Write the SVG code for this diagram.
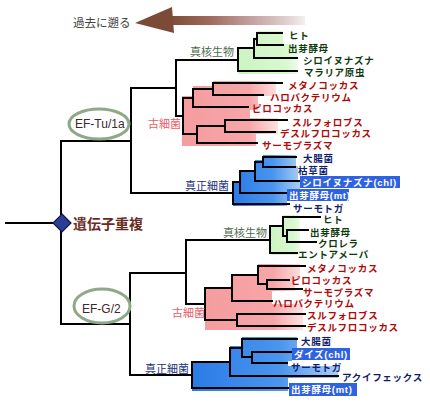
<svg xmlns="http://www.w3.org/2000/svg" width="430" height="404" viewBox="0 0 430 404">
<defs>
<style>
.ln{stroke:#000;stroke-width:2;fill:none;stroke-linecap:square}
.tip{font-family:"Liberation Sans","Noto Sans CJK JP","Noto Sans CJK SC",sans-serif;font-size:9.5px;font-weight:bold;letter-spacing:0.7px}
.euk{fill:#0d3a0d}.arc{fill:#b00808}.bac{fill:#121c6e}.hl{fill:#fff}
.box{fill:#2f62e0}
.grp{font-family:"Liberation Sans","Noto Sans CJK JP","Noto Sans CJK SC",sans-serif;font-size:11px}
.ef{fill:none;stroke:#8fa888;stroke-width:3}
.eft{font-family:"Liberation Sans",Arial,sans-serif;font-size:12px;fill:#3a2a2a}
</style>
<linearGradient id="shaft" x1="0" y1="0" x2="1" y2="0">
<stop offset="0" stop-color="#7b4b38"/><stop offset="0.3" stop-color="#a06b5c"/><stop offset="0.6" stop-color="#c4a0a0"/><stop offset="0.85" stop-color="#e0cccc"/><stop offset="1" stop-color="#f6eeee"/>
</linearGradient>
<linearGradient id="pink" x1="0" y1="0" x2="1" y2="0">
<stop offset="0" stop-color="#f59c9e"/><stop offset="0.7" stop-color="#f7a6a8"/><stop offset="1" stop-color="#fde2e2"/>
</linearGradient>
<linearGradient id="blue" x1="0" y1="0" x2="1" y2="0">
<stop offset="0" stop-color="#2a7be6"/><stop offset="0.6" stop-color="#4a95ee"/><stop offset="1" stop-color="#a9cdf6"/>
</linearGradient>
<linearGradient id="green" x1="0" y1="0" x2="1" y2="0">
<stop offset="0" stop-color="#cdf4c2"/><stop offset="0.8" stop-color="#d8f8d0"/><stop offset="1" stop-color="#ecfce8"/>
</linearGradient>
</defs>
<rect width="430" height="404" fill="#fff"/>

<g id="time-arrow">
<rect x="170" y="16" width="135" height="9" fill="url(#shaft)"/>
<polygon points="135,23 172,7 174,33" fill="#7b4b38"/>
<text x="73" y="27" font-family="Liberation Sans,Noto Sans CJK JP,sans-serif" font-size="11.5" fill="#444">過去に遡る</text>
</g>

<g id="shading">
<polygon points="257,31 283,31 283,44 298,44 298,74 238,74 238,47 254,47 254,37 257,37" fill="url(#green)"/>
<polygon points="213,81 276,81 276,96 258,96 258,110 250,110 250,118 278,118 278,134 256,134 256,146 182,146 182,96 193,96 193,86 213,86" fill="url(#pink)"/>
<polygon points="263,155 296,155 296,166 298,166 298,180 300,180 300,192 287,192 287,206 233,206 233,181 240,181 240,170 255,170 255,160 263,160" fill="url(#blue)"/>
<polygon points="283,215 300,215 300,255 270,255 270,225 283,225" fill="url(#green)"/>
<polygon points="258,264 300,264 300,278 295,278 295,291 272,291 272,304 303,304 303,330 205,330 205,288 232,288 232,274 258,274" fill="url(#pink)"/>
<polygon points="242,337 297,337 297,350 292,350 292,361 288,361 288,366 338,366 338,378 288,378 288,391 192,391 192,362 230,362 230,346 242,346" fill="url(#blue)"/>
</g>

<g id="connectors">
<path class="ln" d="M6 223H61 M61 141V324 M61 141H131 M61 324H130"/>
<path class="ln" d="M131 88V193 M131 88H176 M131 193H233 M176 60V116 M176 60H238 M176 116H183"/>
<path class="ln" d="M238 48V71 M238 48H254 M238 71H297 M254 39V58 M254 39H257 M254 58H297 M257 33V45 M257 33H282 M257 45H283"/>
<path class="ln" d="M183 98V134 M183 98H193 M183 134H197 M193 89V107 M193 89H213 M193 107H248 M213 83V95 M213 83H282 M213 95H263 M197 126V143 M197 126H225 M197 143H257 M225 120V132 M225 120H287 M225 132H275"/>
<path class="ln" d="M233 182V204 M233 182H240 M233 204H289 M240 171V193 M240 171H255 M240 193H286 M255 162V181 M255 162H263 M255 181H299 M263 157V167 M263 157H296 M263 167H295"/>
<path class="ln" d="M130 273V375 M130 273H186 M130 375H192 M186 240V304 M186 240H270 M186 304H205"/>
<path class="ln" d="M270 226V253 M270 226H283 M270 253H297 M283 217V236 M283 217H320 M283 236H287 M287 230V242 M287 230H308 M287 242H316"/>
<path class="ln" d="M205 288V320 M205 288H232 M205 320H237 M232 275V301 M232 275H258 M232 301H272 M258 266V284 M258 266H305 M258 284H267 M267 280V289 M267 280H289 M267 289H302 M237 314V326 M237 314H305 M237 326H305"/>
<path class="ln" d="M192 362V388 M192 362H230 M192 388H288 M230 348V376 M230 348H242 M230 376H338 M242 339V357 M242 339H297 M242 357H252 M252 352V363 M252 352H291 M252 363H287"/>
</g>

<g id="duplication">
<polygon points="62,214 71,223 62,232 53,223" fill="#2c3d95" stroke="#14184a" stroke-width="1.2"/>
<text x="73" y="229" font-family="Liberation Sans,Noto Sans CJK JP,sans-serif" font-size="14" font-weight="bold" fill="#6b2a1f">遺伝子重複</text>
</g>

<g id="ef-tu">
<ellipse class="ef" cx="99" cy="124" rx="30" ry="15"/>
<text class="eft" x="75" y="128">EF-Tu/1a</text>
</g>
<g id="ef-g">
<ellipse class="ef" cx="102" cy="306" rx="28" ry="17"/>
<text class="eft" x="82" y="313">EF-G/2</text>
</g>

<g id="group-labels">
<text class="grp" x="190" y="56" fill="#4d6b4d">真核生物</text>
<text class="grp" x="148" y="128" fill="#e8606a">古細菌</text>
<text class="grp" x="185" y="190" fill="#26307a">真正細菌</text>
<text class="grp" x="223" y="237" fill="#4d6b4d">真核生物</text>
<text class="grp" x="172" y="317" fill="#e8606a">古細菌</text>
<text class="grp" x="145" y="373" fill="#26307a">真正細菌</text>
</g>

<g id="tu-eukaryotes">
<text class="tip euk" x="289" y="39">ヒト</text>
<text class="tip euk" x="288" y="52">出芽酵母</text>
<text class="tip euk" x="303" y="64">シロイヌナズナ</text>
<text class="tip euk" x="304" y="76">マラリア原虫</text>
</g>
<g id="tu-archaea">
<text class="tip arc" x="288" y="89">メタノコッカス</text>
<text class="tip arc" x="270" y="101">ハロバクテリウム</text>
<text class="tip arc" x="252" y="112">ピロコッカス</text>
<text class="tip arc" x="292" y="126">スルフォロブス</text>
<text class="tip arc" x="280" y="137">デスルフロコッカス</text>
<text class="tip arc" x="262" y="149">サーモプラズマ</text>
</g>
<g id="tu-bacteria">
<text class="tip bac" x="303" y="162">大腸菌</text>
<text class="tip bac" x="298" y="174">枯草菌</text>
<rect class="box" x="300" y="176" width="100" height="12"/>
<text class="tip hl" x="302" y="186">シロイヌナズナ(chl)</text>
<rect class="box" x="287" y="189" width="62" height="12"/>
<text class="tip hl" x="289" y="199">出芽酵母(mt)</text>
<text class="tip bac" x="293" y="212">サーモトガ</text>
</g>

<g id="g-eukaryotes">
<text class="tip euk" x="323" y="223">ヒト</text>
<text class="tip euk" x="310" y="236">出芽酵母</text>
<text class="tip euk" x="318" y="247">クロレラ</text>
<text class="tip euk" x="298" y="258">エントアメーバ</text>
</g>
<g id="g-archaea">
<text class="tip arc" x="307" y="272">メタノコッカス</text>
<text class="tip arc" x="291" y="284">ピロコッカス</text>
<text class="tip arc" x="303" y="295.5">サーモプラズマ</text>
<text class="tip arc" x="273" y="307">ハロバクテリウム</text>
<text class="tip arc" x="307" y="319">スルフォロブス</text>
<text class="tip arc" x="307" y="331">デスルフロコッカス</text>
</g>
<g id="g-bacteria">
<text class="tip bac" x="301" y="345">大腸菌</text>
<rect class="box" x="292" y="348" width="58" height="12"/>
<text class="tip hl" x="294" y="358">ダイズ(chl)</text>
<text class="tip bac" x="291" y="371">サーモトガ</text>
<text class="tip bac" x="342" y="381">アクイフェックス</text>
<rect class="box" x="289" y="383" width="68" height="13"/>
<text class="tip hl" x="291" y="393">出芽酵母(mt)</text>
</g>
</svg>
